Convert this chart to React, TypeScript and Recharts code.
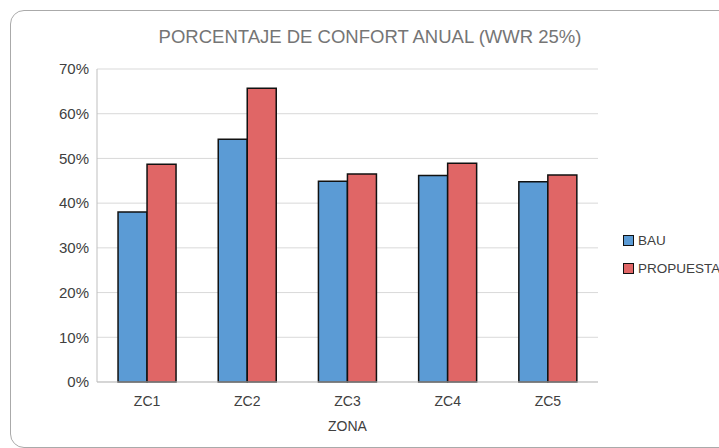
import React from 'react';
import { BarChart, Bar, XAxis, YAxis, CartesianGrid } from 'recharts';

const categories = ['ZC1', 'ZC2', 'ZC3', 'ZC4', 'ZC5'];
const bau = [0.38, 0.543, 0.449, 0.462, 0.448];
const propuesta = [0.487, 0.657, 0.465, 0.489, 0.463];
const yTicks = [0, 0.1, 0.2, 0.3, 0.4, 0.5, 0.6, 0.7];
const seriesNames = ['BAU', 'PROPUESTA'];

const data = categories.map((c, i) => ({ zona: c, BAU: bau[i], PROPUESTA: propuesta[i] }));

const BLUE = '#5B9BD5';
const RED = '#E06666';
const colors = [BLUE, RED];
const FONT = '"Liberation Sans", Arial, sans-serif';

export default function App() {
  return (
    <div style={{ position: 'absolute', left: 0, top: 0, width: 719, height: 448, overflow: 'hidden', background: '#fff' }}>
      <div style={{ position: 'absolute', left: 10, top: 10, width: 730, height: 438, border: '1px solid #aaaaaa', borderRadius: 14, boxSizing: 'border-box' }} />
      <div style={{ position: 'absolute', left: 0, top: 26, width: 740, textAlign: 'center', fontFamily: FONT, fontSize: 18.5, color: '#757575' }}>
        PORCENTAJE DE CONFORT ANUAL (WWR 25%)
      </div>
      <div style={{ position: 'absolute', left: 97, top: 418, width: 501, textAlign: 'center', fontFamily: FONT, fontSize: 14, color: '#404040' }}>
        ZONA
      </div>
      <div style={{ position: 'absolute', left: 623, top: 226, fontFamily: FONT, fontSize: 13.5, color: '#404040' }}>
        {seriesNames.map((name, i) => (
          <div key={name} style={{ display: 'flex', alignItems: 'center', height: 28, whiteSpace: 'nowrap' }}>
            <span style={{ display: 'inline-block', flex: '0 0 auto', width: 11, height: 11, background: colors[i], border: '1.5px solid #111', boxSizing: 'border-box', marginRight: 4 }} />
            <span>{name}</span>
          </div>
        ))}
      </div>
      <div style={{ position: 'absolute', left: 0, top: 0 }}>
        <BarChart width={719} height={448} data={data} margin={{ top: 69, right: 121, bottom: 0, left: 37 }} barGap={0} barCategoryGap="21%">
          <CartesianGrid horizontal vertical={false} stroke="#d9d9d9" strokeWidth={1} />
          <XAxis dataKey="zona" height={66} tickLine={false} axisLine={{ stroke: '#bfbfbf' }} tickSize={0} tickMargin={14}
            tick={{ fill: '#404040', fontSize: 14, fontFamily: FONT }} />
          <YAxis width={60} domain={[0, 0.7]} ticks={yTicks} tickLine={false} axisLine={{ stroke: '#bfbfbf' }} tickSize={0} tickMargin={8}
            tickFormatter={(v: number) => `${Math.round(v * 100)}%`} tick={{ fill: '#404040', fontSize: 15, fontFamily: FONT }} interval={0} />
          <Bar dataKey="BAU" fill={BLUE} stroke="#111" strokeWidth={1.5} isAnimationActive={false} />
          <Bar dataKey="PROPUESTA" fill={RED} stroke="#111" strokeWidth={1.5} isAnimationActive={false} />
        </BarChart>
      </div>
    </div>
  );
}
